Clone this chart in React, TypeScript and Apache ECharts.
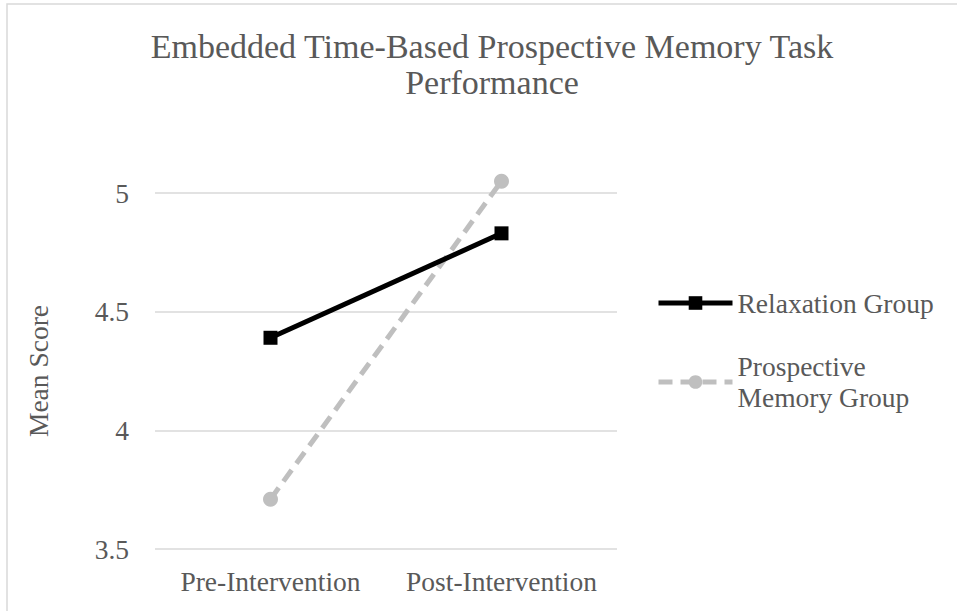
import React, { useEffect, useRef } from "react";
import * as echarts from "echarts";

const titleLines = ["Embedded Time-Based Prospective Memory Task", "Performance"];
const categories = ["Pre-Intervention", "Post-Intervention"];
const relaxation = [4.39, 4.83];
const prospective = [3.71, 5.05];
const seriesNames = ["Relaxation Group", "Prospective Memory Group"];
const yMin = 3.5;
const yMax = 5;
const yStep = 0.5;
const yName = "Mean Score";

const FONT = "Liberation Serif";
const TEXT = "#595959";

export default function App() {
  const ref = useRef<HTMLDivElement>(null);
  useEffect(() => {
    if (!ref.current) return;
    const chart = echarts.init(ref.current, null, { renderer: "svg" });
    chart.setOption({
      animation: false,
      backgroundColor: "#ffffff",
      textStyle: { fontFamily: FONT, color: TEXT },
      graphic: [
        {
          type: "rect",
          shape: { x: 7, y: 4, width: 1000, height: 700 },
          style: { fill: "none", stroke: "#d9d9d9", lineWidth: 1.5 },
          silent: true,
        },
        {
          type: "text",
          x: 492,
          y: 28,
          style: {
            text: titleLines.join("\n"),
            fontFamily: FONT,
            fontSize: 34,
            fill: TEXT,
            align: "center",
            verticalAlign: "top",
            lineHeight: 36,
          },
        },
      ],
      grid: { left: 155, right: 340, top: 193, bottom: 62 },
      xAxis: {
        type: "category",
        data: categories,
        boundaryGap: true,
        axisLine: { show: false },
        axisTick: { show: false },
        axisLabel: {
          color: TEXT,
          fontFamily: FONT,
          fontSize: 27.5,
          margin: 18,
          interval: 0,
          hideOverlap: false,
        },
      },
      yAxis: {
        type: "value",
        min: yMin,
        max: yMax,
        interval: yStep,
        name: yName,
        nameLocation: "middle",
        nameRotate: 90,
        nameGap: 103,
        nameTextStyle: { color: TEXT, fontFamily: FONT, fontSize: 27.5 },
        axisLine: { show: false },
        axisTick: { show: false },
        axisLabel: { color: TEXT, fontFamily: FONT, fontSize: 27.5, margin: 26 },
        splitLine: { show: true, lineStyle: { color: "#d9d9d9", width: 1.5 } },
      },
      legend: [
        {
          data: [seriesNames[0]],
          left: 656,
          top: 287.5,
          padding: 0,
          itemWidth: 74,
          itemHeight: 17,
          lineStyle: { width: 5 },
          textStyle: { color: TEXT, fontFamily: FONT, fontSize: 27.5, lineHeight: 31 },
        },
        {
          data: [seriesNames[1]],
          left: 656,
          top: 335.5,
          padding: 0,
          itemWidth: 74,
          itemHeight: 17,
          lineStyle: { width: 5 },
          formatter: () => "Prospective\nMemory Group",
          textStyle: {
            color: TEXT,
            fontFamily: FONT,
            fontSize: 27.5,
            lineHeight: 31,
            padding: [31, 0, 0, 0],
          },
        },
      ],
      series: [
        {
          name: seriesNames[0],
          type: "line",
          data: relaxation,
          symbol: "rect",
          symbolSize: 14,
          clip: false,
          lineStyle: { color: "#000000", width: 5 },
          itemStyle: { color: "#000000" },
          z: 3,
        },
        {
          name: seriesNames[1],
          type: "line",
          data: prospective,
          symbol: "circle",
          symbolSize: 15,
          clip: false,
          lineStyle: { color: "#bfbfbf", width: 5, type: [14, 8] },
          itemStyle: { color: "#bfbfbf" },
          z: 2,
        },
      ],
    });
    return () => chart.dispose();
  }, []);
  return (
    <div
      ref={ref}
      style={{ position: "fixed", left: 0, top: 0, width: 957, height: 611 }}
    />
  );
}
